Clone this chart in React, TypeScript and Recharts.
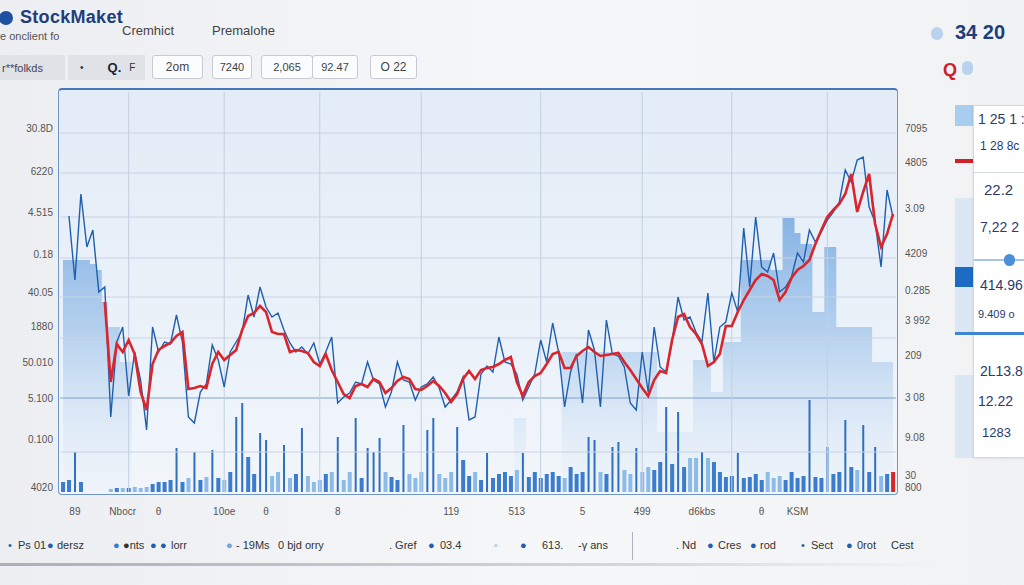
import React from 'react';
import { ComposedChart, Line, Bar, Area, XAxis, YAxis, ReferenceLine } from 'recharts';

// price units are roughly plot pixels above the baseline (0..400)
const redPrice = [
  null, null, null, null, null, null, null,
  190, 110, 148, 140, 152, 138, 100, 82, 128, 142,
  146, 149, 156, 160, 103, 104, 106, 104, 128, 140,
  132, 137, 142, 162, 176, 179, 186, 180, 160, 158,
  158, 140, 142, 141, 139, 130, 126, 138, 122, 110,
  98, 94, 106, 108, 105, 113, 110, 99, 104, 111,
  115, 113, 103, 102, 106, 111, 106, 99, 90, 98,
  113, 121, 113, 122, 124, 125, 128, 132, 135, 110,
  96, 110, 116, 119, 128, 138, 140, 124, 124, 136,
  141, 145, 140, 136, 137, 138, 139, 130, 122, 113,
  104, 96, 112, 121, 119, 152, 175, 178, 165, 158,
  148, 126, 130, 138, 166, 166, 180, 192, 202, 212,
  218, 216, 212, 192, 200, 214, 222, 226, 232, 248,
  262, 275, 282, 288, 298, 318, 280, 300, 318, 268,
  245, 258, 278,
];

const bluePrice = [
  null, 276, 212, 298, 245, 262, 200,
  205, 75, 150, 165, 96, 140, 112, 62, 165, 140,
  150, 148, 177, 150, 75, 69, 100, 108, 147, 132,
  105, 140, 150, 160, 197, 175, 205, 185, 175, 179,
  162, 149, 140, 145, 138, 149, 128, 140, 155, 89,
  95, 99, 110, 108, 130, 112, 108, 85, 100, 130,
  112, 110, 92, 105, 108, 115, 104, 85, 92, 100,
  115, 72, 75, 118, 126, 120, 155, 130, 128, 118,
  92, 105, 118, 152, 130, 169, 140, 85, 120, 138,
  89, 162, 142, 85, 172, 138, 136, 125, 89, 82,
  140, 100, 165, 125, 120, 150, 195, 172, 175, 160,
  150, 199, 130, 165, 170, 199, 180, 264, 205, 275,
  225, 220, 239, 200, 205, 215, 239, 230, 262, 250,
  260, 272, 280, 290, 322, 310, 332, 335, 285, 270,
  225, 302, 275,
];

const volume = [
  10, 12, 40, 10, 0, 0, 0, 0, 3, 4,
  4, 4, 5, 4, 5, 8, 10, 10, 12, 44,
  10, 14, 40, 12, 15, 42, 14, 12, 20, 75,
  89, 35, 18, 59, 52, 16, 20, 47, 14, 18,
  64, 16, 10, 12, 18, 20, 55, 12, 20, 74,
  14, 44, 40, 54, 20, 15, 12, 67, 18, 14,
  20, 62, 74, 18, 14, 20, 65, 32, 16, 20,
  12, 39, 14, 18, 20, 16, 22, 39, 15, 20,
  14, 18, 20, 16, 14, 25, 18, 20, 55, 52,
  20, 18, 45, 50, 22, 18, 44, 20, 25, 22,
  30, 85, 28, 80, 25, 34, 34, 40, 34, 30,
  20, 15, 16, 39, 14, 15, 18, 12, 20, 14,
  16, 12, 20, 14, 16, 92, 15, 14, 45, 18,
  20, 72, 25, 22, 67, 20, 45, 16, 18, 20,
];

const backdrop = [
  232, 232, 232, 232, 232, 228, 222, 190, 165, 165,
  130, 130, 0, 0, 0, 0, 0, 0, 0, 0,
  0, 0, 0, 0, 0, 0, 0, 0, 0, 0,
  0, 0, 0, 0, 0, 0, 0, 0, 0, 0,
  0, 0, 0, 0, 0, 0, 0, 0, 0, 0,
  0, 0, 0, 0, 0, 0, 0, 0, 0, 0,
  0, 0, 0, 0, 0, 0, 0, 0, 0, 0,
  0, 0, 0, 0, 0, 0, 74, 74, 0, 0,
  0, 0, 0, 0, 140, 140, 140, 140, 140, 140,
  140, 140, 140, 140, 140, 140, 140, 140, 140, 140,
  60, 60, 60, 60, 60, 60, 132, 132, 132, 100,
  100, 150, 150, 150, 232, 232, 232, 232, 232, 222,
  222, 274, 274, 259, 248, 248, 180, 180, 245, 245,
  165, 165, 165, 165, 165, 165, 130, 130, 130, 130,
];

const xLabels: Record<number, string> = {
  2: '89', 10: 'Nbocr', 16: 'θ', 27: '10oe', 34: 'θ', 46: '8', 65: '119',
  76: '513', 87: '5', 97: '499', 107: 'd6kbs', 117: 'θ', 123: 'KSM',
};
const leftTicks = [5, 53, 94, 130, 166, 200, 238, 280, 321, 364];
const leftLabels = ['4020', '0.100', '5.100', '50.010', '1880', '40.05', '0.18', '4.515', '6220', '30.8D'];
const rightTicks = [5, 17, 55, 95, 137, 172, 202, 239, 284, 330, 364];
const rightLabels = ['800', '30', '9.08', '3 08', '209', '3 992', '0.285', '4209', '3.09', '4805', '7095'];
const gridX = [11, 27, 43, 60, 80, 97, 112, 128];
const gridY = [359, 319, 275, 234, 195, 154, 94, 40];

const data = volume.map((v, i) => ({
  t: i, red: redPrice[i], blue: bluePrice[i], vol: v, bg: backdrop[i],
}));

const VolumeBar = (p: any) => {
  const { x, y, width, height, index } = p;
  if (!height || height <= 0) return null;
  const tall = volume[index] > 35;
  const w = tall ? 2 : width;
  let fill = '#3b7dcc';
  if (index === volume.length - 1) fill = '#d8262c';
  else if (tall) fill = '#2f6fbf';
  else {
    const prev = redPrice[index - 1];
    const cur = redPrice[index];
    if (prev != null && cur != null && cur < prev) fill = '#8dbbe8';
  }
  return <rect x={x + (width - w) / 2} y={y} width={w} height={height} fill={fill} />;
};

const font = "'Liberation Sans', Arial, sans-serif";
const abs = (l: number, t: number, extra: React.CSSProperties = {}): React.CSSProperties => ({
  position: 'absolute', left: l, top: t, whiteSpace: 'nowrap', ...extra,
});

const legend: [number, string, string][] = [
  [8, '•', '#1e5fae'], [18, 'Ps 01', '#333'], [47, '●', '#1e5fae'], [57, 'dersz', '#333'],
  [113, '●', '#2f7fd0'], [123, '●nts', '#333'], [150, '●', '#1e5fae'], [160, '●', '#1e5fae'],
  [171, 'lorr', '#333'], [226, '●', '#6fa6de'], [236, '- 19Ms', '#333'], [278, '0 bjd orry', '#333'],
  [389, '. Gref', '#333'], [428, '●', '#1e5fae'], [440, '03.4', '#333'], [494, '▪', '#b8cfe8'],
  [520, '●', '#1e5fae'], [542, '613.', '#333'], [578, '-γ  ans', '#333'],
  [676, '. Nd', '#333'], [707, '●', '#1e5fae'], [718, 'Cres', '#333'], [750, '●', '#1e5fae'],
  [760, 'rod', '#333'], [801, '•', '#1e5fae'], [811, 'Sect', '#333'], [846, '●', '#1e5fae'],
  [857, '0rot', '#333'], [891, 'Cest', '#333'],
];

const box: React.CSSProperties = {
  height: 24, border: '1px solid #c5cad3', borderRadius: 3, background: '#fbfcfd',
  fontSize: 12, color: '#444', display: 'flex', alignItems: 'center', justifyContent: 'center',
  boxSizing: 'border-box',
};

export default function App() {
  return (
    <div style={{
      position: 'absolute', left: 0, top: 0, width: 1024, height: 585, overflow: 'hidden',
      background: 'linear-gradient(90deg, #eceef1 0%, #f6f7f9 55%, #f1f2f4 100%)', fontFamily: font,
    }}>
      {/* header */}
      <div style={abs(-1, 11, { width: 14, height: 14, borderRadius: 7, background: '#1e4fa0' })} />
      <div style={abs(20, 7, { fontSize: 18, fontWeight: 600, color: '#1f3d7a', letterSpacing: 0.3 })}>StockMaket</div>
      <div style={abs(0, 30, { fontSize: 11, color: '#555' })}>e onclient fo</div>
      <div style={abs(122, 23, { fontSize: 13, color: '#444' })}>Cremhict</div>
      <div style={abs(212, 23, { fontSize: 13, color: '#444' })}>Premalohe</div>

      <div style={abs(0, 55, { width: 65, height: 25, background: '#dfe2e7', fontSize: 11, color: '#445', display: 'flex', alignItems: 'center', paddingLeft: 2, boxSizing: 'border-box' })}>r**folkds</div>
      <div style={abs(68, 55, { width: 77, height: 25, background: '#dfe2e7', fontSize: 13, color: '#334', display: 'flex', alignItems: 'center', boxSizing: 'border-box' })}>
        <span style={{ marginLeft: 12, fontSize: 10 }}>•</span>
        <span style={{ marginLeft: 24, fontWeight: 600, color: '#223' }}>Q.</span>
        <span style={{ marginLeft: 8, fontSize: 10 }}>F</span>
      </div>
      <div style={abs(152, 55, { ...box, width: 51 })}>2om</div>
      <div style={abs(212, 55, { ...box, width: 40, fontSize: 11 })}>7240</div>
      <div style={abs(261, 55, { ...box, width: 52, fontSize: 11 })}>2,065</div>
      <div style={abs(312, 55, { ...box, width: 46, fontSize: 11 })}>92.47</div>
      <div style={abs(370, 55, { ...box, width: 47 })}>O 22</div>

      <div style={abs(931, 27, { width: 12, height: 13, borderRadius: 6, background: '#b9d3ef' })} />
      <div style={abs(955, 21, { fontSize: 20, fontWeight: 600, color: '#1f3d7a' })}>34 20</div>
      <div style={abs(943, 60, { fontSize: 18, fontWeight: 700, color: '#d0202a' })}>Q</div>
      <div style={abs(962, 61, { width: 11, height: 14, borderRadius: 6, background: '#b9d3ef' })} />

      {/* plot frame */}
      <div style={abs(58, 88, {
        width: 840, height: 407, boxSizing: 'border-box', border: '1.5px solid #6f96c8',
        borderTop: '2px solid #4677b6', borderRadius: 4,
        background: 'linear-gradient(180deg, #e3ecf7 0%, #eaf1f9 55%, #f2f6fb 100%)',
      })} />

      <ComposedChart
        width={1024} height={585} data={data}
        margin={{ top: 92, right: 78, bottom: 63, left: 10 }}
        barCategoryGap="18%"
        style={{ position: 'absolute', left: 0, top: 0 }}
      >
        <defs>
          <linearGradient id="bgFill" x1="0" y1="0" x2="0" y2="1">
            <stop offset="0%" stopColor="#3f86d4" stopOpacity={0.95} />
            <stop offset="40%" stopColor="#6fa6e0" stopOpacity={0.75} />
            <stop offset="100%" stopColor="#dbe8f6" stopOpacity={0.2} />
          </linearGradient>
        </defs>
        <XAxis
          dataKey="t" type="category" interval={0} axisLine={false} tickLine={false}
          tickSize={14} height={30}
          tick={{ fontSize: 10, fill: '#555', fontFamily: font }}
          tickFormatter={(v: number) => xLabels[v] ?? ''}
        />
        <YAxis
          yAxisId="left" domain={[0, 400]} ticks={leftTicks} width={50} interval={0}
          axisLine={false} tickLine={false} tickSize={5}
          tick={{ fontSize: 10, fill: '#555', fontFamily: font }}
          tickFormatter={(v: number) => leftLabels[leftTicks.indexOf(v)] ?? ''}
        />
        <YAxis
          yAxisId="right" orientation="right" domain={[0, 400]} ticks={rightTicks} width={50} interval={0}
          axisLine={false} tickLine={false} tickSize={7}
          tick={{ fontSize: 10, fill: '#555', fontFamily: font, textAnchor: 'start' }}
          tickFormatter={(v: number) => rightLabels[rightTicks.indexOf(v)] ?? ''}
        />
        {gridY.map((y) => (
          <ReferenceLine key={'h' + y} yAxisId="left" y={y}
            stroke={y === 94 ? '#7ea3d2' : '#c8d4e3'} strokeWidth={1} />
        ))}
        {gridX.map((x) => (
          <ReferenceLine key={'v' + x} yAxisId="left" x={x} stroke="#c3cfdf" strokeWidth={1} />
        ))}
        <Area yAxisId="right" dataKey="bg" type="step" stroke="none" fill="url(#bgFill)"
          isAnimationActive={false} />
        <Bar yAxisId="left" dataKey="vol" shape={VolumeBar} isAnimationActive={false} />
        <Line yAxisId="left" dataKey="blue" type="linear" stroke="#1f5fb0" strokeWidth={1.4}
          dot={false} isAnimationActive={false} />
        <Line yAxisId="left" dataKey="red" type="linear" stroke="#d9252b" strokeWidth={2.6}
          dot={false} isAnimationActive={false} />
      </ComposedChart>

      {/* side panel */}
      <div style={abs(955, 105, { width: 19, height: 21, background: '#a8cdee' })} />
      <div style={abs(955, 159, { width: 19, height: 4, background: '#d21f2a' })} />
      <div style={abs(955, 198, { width: 19, height: 135, background: '#dbe7f4' })} />
      <div style={abs(955, 267, { width: 19, height: 20, background: '#1c6cc4' })} />
      <div style={abs(955, 375, { width: 19, height: 83, background: '#dbe7f4' })} />
      <div style={abs(973, 105, {
        width: 70, height: 353, background: '#ffffff', border: '1px solid #d3d9e2',
        boxSizing: 'border-box', boxShadow: '0 1px 3px rgba(0,0,0,0.08)',
      })} />
      <div style={abs(974, 172, { width: 60, height: 1, background: '#d6dce5' })} />
      <div style={abs(974, 259, { width: 60, height: 1.5, background: '#a9c3e2' })} />
      <div style={abs(1004, 254, { width: 11, height: 12, borderRadius: 6, background: '#4a8fd8' })} />
      <div style={abs(955, 332, { width: 80, height: 3, background: '#3d86d0' })} />
      {[
        [978, 111, '1 25 1 :', 14], [980, 139, '1 28 8c', 12], [984, 181, '22.2', 15],
        [980, 219, '7,22 2', 14], [980, 277, '414.96', 14], [978, 308, '9.409 o', 11],
        [980, 363, '2L13.8', 14], [978, 393, '12.22', 14], [982, 425, '1283', 13],
      ].map(([l, t, s, f]) => (
        <div key={s as string} style={abs(l as number, t as number, { fontSize: f as number, color: '#2a3b6e' })}>{s}</div>
      ))}

      {/* legend */}
      {legend.map(([l, s, c], i) => (
        <div key={i} style={abs(l, 539, { fontSize: 11, color: c })}>{s}</div>
      ))}
      <div style={abs(632, 532, { width: 1, height: 28, background: '#aab3bf' })} />
      <div style={abs(0, 563, { width: 940, height: 3, background: 'linear-gradient(90deg, #a9b0bb, #d5d9df 70%, rgba(230,232,236,0))' })} />
    </div>
  );
}
